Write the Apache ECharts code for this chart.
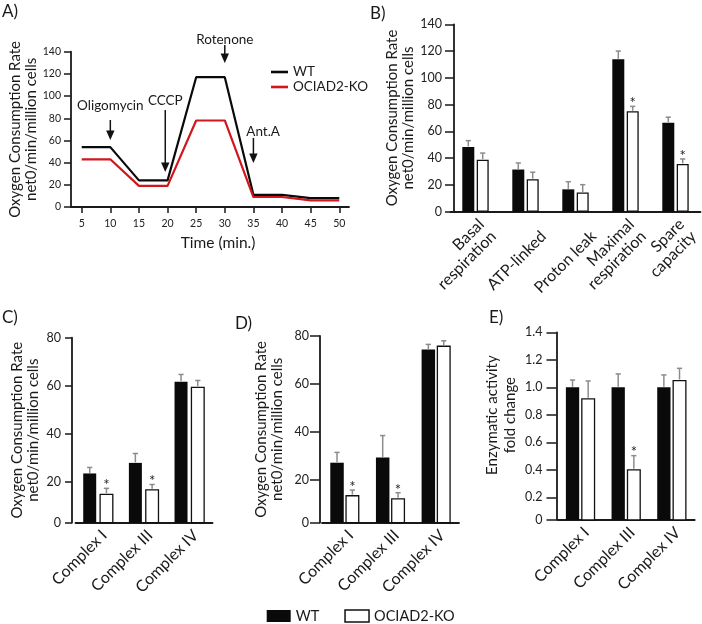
<!DOCTYPE html>
<html><head><meta charset="utf-8">
<script src="https://cdn.jsdelivr.net/npm/echarts@6/dist/echarts.min.js"></script>
<style>html,body{margin:0;padding:0;background:#fff}#c{width:702px;height:624px}</style>
</head><body><div id="c"></div>
<script>
// ---------------- Panel A: OCR time course ----------------
const timeMin = [5,10,15,20,25,30,35,40,45,50];
const aWT = [54,54,24,24,117,117,11,11,8,8];
const aKO = [43,43,19,19,78,78,9,9,6,6];
const aXTicks = [5,10,15,20,25,30,35,40,45,50];
const aInjections = ['Oligomycin','CCCP','Rotenone','Ant.A'];
const aInjTime = [10,19.6,30,35];
const aArrowFrom = [78.4,87.4,146,62.2];
const aArrowTo = [60.4,31.6,129.8,39.7];
const aLabelTime = [10,19.6,30,36.7];
const aLabelVal = [91,95.6,150.5,67.6];

// ---------------- Panel B ----------------
const bCats = ['Basal\nrespiration','\nATP-linked','\nProton leak','Maximal\nrespiration','Spare\ncapacity'];
const bWT = [48.4,31.5,16.7,113.9,66.4];
const bWTErr = [53.1,36.4,22.4,120,70.6];
const bKO = [38.9,24.3,14.3,75,35.7];
const bKOErr = [43.8,29.5,20.2,78.7,39.4];
const bSig = [0,0,0,1,1];

// ---------------- Panels C, D, E ----------------
const complexCats = ['Complex I','Complex III','Complex IV'];
const cWT = [23.5,27.9,61.7];
const cWTErr = [26,31.8,64.7];
const cKO = [15.1,16.9,59.6];
const cKOErr = [17.3,18.9,62.2];
const cSig = [1,1,0];
const cTicks = [0,20,40,60,80];

const dWT = [27.2,29.4,74.4];
const dWTErr = [31.5,38.5,76.5];
const dKO = [13.7,12.4,76];
const dKOErr = [15.8,14.7,78];
const dSig = [1,1,0];
const dTicks = [0,20,40,60,80];

const eWT = [1.0,1.0,1.0];
const eWTErr = [1.053,1.097,1.09];
const eKO = [0.92,0.404,1.053];
const eKOErr = [1.046,0.503,1.138];
const eSig = [0,1,0];
const eTicks = [0,0.2,0.4,0.6,0.8,1.0,1.2,1.4];

// ---------------- styling ----------------
const FONT = 'Lato';
const AX = '#1a1a1a';
const TXT = '#1a1a1a';
const ERR = '#8c8c8c';
const OCR_NAME = 'Oxygen Consumption Rate\nnet0/min/million cells';

// bar geometry per bar panel: [wtWidth, koWidth, gapFraction]
const barGeo = {1:[12,12,0.2], 2:[13,14,0.25], 3:[13.5,14,0.12], 4:[13.3,14,0.15]};
function offsets(g){
  const [w1,w2,gp] = g;
  const sum = w1*(1+gp)+w2;
  return [-sum/2+w1/2, -sum/2+w1*(1+gp)+w2/2];
}

function axisLineStyle(){ return {show:true, onZero:false, lineStyle:{color:AX, width:1.8}}; }

function valueY(gi, min, max, ticks, opts){
  const custom = ticks.map(v => Math.max(v, min));
  return {
    gridIndex:gi, type:'value', min:min, max:max,
    axisLine:axisLineStyle(),
    axisTick:{show:true, customValues:custom, length:opts.tickLen, lineStyle:{color:AX, width:1.5}},
    axisLabel:{customValues:custom, fontSize:opts.fs, color:'#222', margin:opts.margin,
      formatter: v => (v <= min + 1e-9 ? '0' : (opts.dec ? v.toFixed(opts.dec) : String(v)))},
    splitLine:{show:false},
    name:opts.name, nameLocation:'middle', nameGap:opts.nameGap,
    nameTextStyle:Object.assign({fontSize:15, lineHeight:opts.lh||16, color:TXT}, opts.nameExtra||{}),
    offset:opts.offset||0
  };
}

function catX(gi, cats, labelExtra){
  return {
    gridIndex:gi, type:'category', data:cats,
    axisLine:axisLineStyle(), axisTick:{show:false},
    axisLabel:Object.assign({interval:0, rotate:45, fontSize:16, lineHeight:17, color:TXT,
      verticalAlign:'top', margin:4}, labelExtra||{}),
    splitLine:{show:false}
  };
}

function barPair(gi, wt, ko){
  const g = barGeo[gi];
  return [
    {type:'bar', name:'WT', xAxisIndex:gi, yAxisIndex:gi, data:wt, barWidth:g[0], barGap:(g[2]*100)+'%',
      itemStyle:{color:'#0a0a0a'}, clip:true, silent:true},
    {type:'bar', name:'OCIAD2-KO', xAxisIndex:gi, yAxisIndex:gi, data:ko, barWidth:g[1], barGap:(g[2]*100)+'%',
      itemStyle:{color:'#ffffff', borderColor:'#111', borderWidth:1.3}, clip:true, silent:true}
  ];
}

function errSeries(gi, which, means, tops, sig){
  const off = offsets(barGeo[gi])[which];
  return {
    type:'custom', xAxisIndex:gi, yAxisIndex:gi, silent:true, z:5, clip:false,
    data: means.map((m,i)=>[i, m, tops[i], sig ? sig[i] : 0]),
    encode:{x:0, y:[1,2]},
    renderItem(params, api){
      const i = api.value(0);
      const b = api.coord([i, api.value(1)]);
      const t = api.coord([i, api.value(2)]);
      const x = b[0] + off;
      const ch = [
        {type:'line', shape:{x1:x, y1:b[1]-0.5, x2:x, y2:t[1]}, style:{stroke:ERR, lineWidth:1.5}},
        {type:'line', shape:{x1:x-2.6, y1:t[1], x2:x+2.6, y2:t[1]}, style:{stroke:ERR, lineWidth:1.5}}
      ];
      if (api.value(3)) ch.push({type:'text', x:x, y:t[1]-3, style:{text:'*', align:'center', verticalAlign:'middle', fontSize:15, fill:'#222', fontFamily:FONT}});
      return {type:'group', children:ch};
    }
  };
}

const option = {
  animation:false,
  backgroundColor:'#fff',
  textStyle:{fontFamily:FONT},
  grid:[
    {left:71, top:51.7, width:278, height:155.3},
    {left:450.5, top:24.3, width:250, height:187.4},
    {left:75.5, top:337.7, width:137, height:185},
    {left:322, top:336, width:137, height:186.7},
    {left:557.7, top:332.3, width:137, height:187.7}
  ],
  xAxis:[
    {gridIndex:0, type:'value', min:3.13, max:51.7,
      axisLine:axisLineStyle(),
      axisTick:{show:true, customValues:aXTicks, length:6, lineStyle:{color:AX, width:1.5}},
      axisLabel:{customValues:aXTicks, fontSize:10.5, color:'#222', margin:11},
      splitLine:{show:false},
      name:'Time (min.)', nameLocation:'middle', nameGap:28,
      nameTextStyle:{fontSize:15.5, color:TXT, padding:[0,0,0,16]}},
    catX(1, bCats, {fontSize:16}),
    catX(2, complexCats),
    catX(3, complexCats),
    catX(4, complexCats)
  ],
  yAxis:[
    valueY(0, 0, 140, [0,20,40,60,80,100,120,140], {tickLen:7, fs:10.5, margin:10, name:OCR_NAME, nameGap:23.5}),
    valueY(1, 0, 140, [0,20,40,60,80,100,120,140], {tickLen:9, fs:12.5, margin:12, name:OCR_NAME, nameGap:27.5, offset:-3.5}),
    valueY(2, 3, 80, cTicks, {tickLen:7, fs:12.5, margin:11, name:OCR_NAME, nameGap:31, offset:3.5}),
    valueY(3, 2.2, 80, dTicks, {tickLen:10, fs:12.5, margin:11, name:OCR_NAME, nameGap:35, offset:2}),
    valueY(4, 0.035, 1.4, eTicks, {tickLen:10, fs:12.5, margin:14, dec:1, name:'Enzymatic activity\nfold change', nameGap:37, lh:18, offset:1.2, nameExtra:{padding:[0,0,0,22]}})
  ],
  legend:[
    {orient:'vertical', left:271, top:64.5, padding:0, itemWidth:17, itemHeight:2.6, itemGap:0,
      textStyle:{fontSize:13.5, lineHeight:15, color:TXT, fontFamily:FONT}, selectedMode:false,
      data:[{name:'WT', icon:'rect', itemStyle:{color:'#0a0a0a', borderWidth:0}},
            {name:'OCIAD2-KO', icon:'rect', itemStyle:{color:'#d0171c', borderWidth:0}}]},
    {orient:'horizontal', left:266.7, top:608, padding:0, itemWidth:24, itemHeight:12, itemGap:25,
      textStyle:{fontSize:14.5, lineHeight:16, color:TXT, fontFamily:FONT}, selectedMode:false,
      data:[{name:'WT', icon:'rect', itemStyle:{color:'#0a0a0a', borderWidth:0}},
            {name:'OCIAD2-KO', icon:'rect', itemStyle:{color:'#fff', borderColor:'#111', borderWidth:1.5}}]}
  ],
  graphic:[
    {type:'text', left:2, top:3, style:{text:'A)', fontSize:17, fill:TXT, fontFamily:FONT}},
    {type:'text', left:370, top:5, style:{text:'B)', fontSize:17, fill:TXT, fontFamily:FONT}},
    {type:'text', left:2, top:309, style:{text:'C)', fontSize:17, fill:TXT, fontFamily:FONT}},
    {type:'text', left:235, top:315, style:{text:'D)', fontSize:17, fill:TXT, fontFamily:FONT}},
    {type:'text', left:489, top:309, style:{text:'E)', fontSize:17, fill:TXT, fontFamily:FONT}}
  ],
  series:[
    {type:'line', name:'WT', xAxisIndex:0, yAxisIndex:0, data:timeMin.map((t,i)=>[t,aWT[i]]),
      symbol:'none', lineStyle:{color:'#0a0a0a', width:2.2}, itemStyle:{color:'#0a0a0a'}, silent:true, z:3},
    {type:'line', name:'OCIAD2-KO', xAxisIndex:0, yAxisIndex:0, data:timeMin.map((t,i)=>[t,aKO[i]]),
      symbol:'none', lineStyle:{color:'#d0171c', width:2.2}, itemStyle:{color:'#d0171c'}, silent:true, z:3},
    {type:'custom', xAxisIndex:0, yAxisIndex:0, silent:true, clip:false, z:6,
      data: aInjections.map((n,i)=>[aInjTime[i], aArrowFrom[i], aArrowTo[i], aLabelTime[i], aLabelVal[i]]),
      encode:{x:0, y:[1,2]},
      renderItem(params, api){
        const t = api.value(0);
        const p1 = api.coord([t, api.value(1)]);
        const p2 = api.coord([t, api.value(2)]);
        const pl = api.coord([api.value(3), api.value(4)]);
        return {type:'group', children:[
          {type:'line', shape:{x1:p1[0], y1:p1[1], x2:p2[0], y2:p2[1]-8}, style:{stroke:'#111', lineWidth:1.5}},
          {type:'polygon', shape:{points:[[p2[0]-4.2,p2[1]-9.5],[p2[0]+4.2,p2[1]-9.5],[p2[0],p2[1]]]}, style:{fill:'#111'}},
          {type:'text', x:pl[0], y:pl[1], style:{text:aInjections[params.dataIndex], align:'center', verticalAlign:'middle', fontSize:13.5, fill:TXT, fontFamily:FONT}}
        ]};
      }
    },
    ...barPair(1, bWT, bKO),
    errSeries(1, 0, bWT, bWTErr, null),
    errSeries(1, 1, bKO, bKOErr, bSig),
    ...barPair(2, cWT, cKO),
    errSeries(2, 0, cWT, cWTErr, null),
    errSeries(2, 1, cKO, cKOErr, cSig),
    ...barPair(3, dWT, dKO),
    errSeries(3, 0, dWT, dWTErr, null),
    errSeries(3, 1, dKO, dKOErr, dSig),
    ...barPair(4, eWT, eKO),
    errSeries(4, 0, eWT, eWTErr, null),
    errSeries(4, 1, eKO, eKOErr, eSig)
  ]
};
const chart = echarts.init(document.getElementById('c'), null, {renderer:'canvas'});
chart.setOption(option);
</script></body></html>
